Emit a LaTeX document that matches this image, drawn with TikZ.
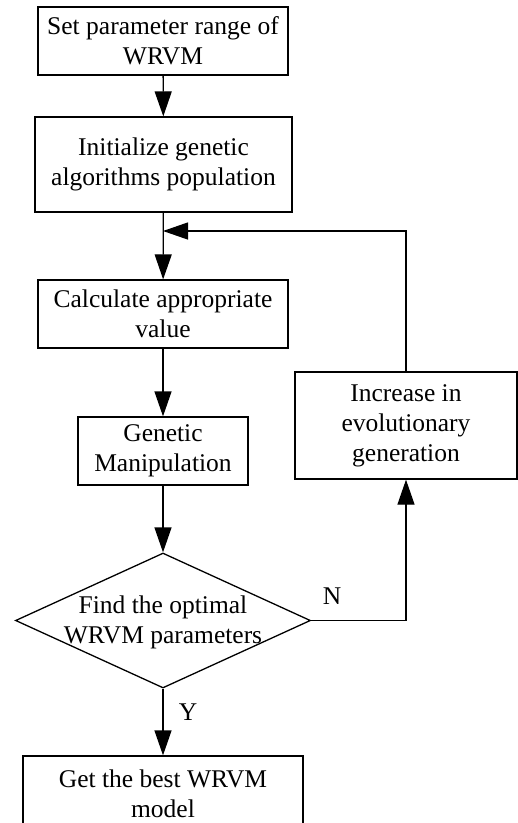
\documentclass[tikz,border=0pt]{standalone}
\usepackage{fontspec}
\setmainfont{Liberation Serif}
\usetikzlibrary{arrows.meta,shapes.geometric}

\tikzset{
  flowbox/.style={draw, line width=1.3pt, inner sep=0pt, align=center},
  decision/.style={draw, diamond, line width=1.3pt, inner sep=0pt},
  flowtext/.style={inner sep=0pt, align=center},
  flowarrow/.style={line width=1.3pt, -{Triangle[width=17pt,length=25pt]}}
}

\begin{document}
\begin{tikzpicture}[x=1pt, y=-1pt, font=\fontsize{25.5}{30}\selectfont]
\useasboundingbox (0,0) rectangle (518,823);
\clip (0,0) rectangle (518,823);
\node[flowbox, minimum width=250pt, minimum height=68pt] (range) at (163,41) {Set parameter range of\\WRVM};
\node[flowbox, minimum width=257pt, minimum height=95pt] (init) at (163.5,164.5) {Initialize genetic\\algorithms population};
\node[flowbox, minimum width=250pt, minimum height=68pt] (calc) at (163,314) {Calculate appropriate\\value};
\node[flowbox, minimum width=170pt, minimum height=68pt] (genetic) at (163,451) {Genetic\\Manipulation};
\node[decision, minimum width=295pt, minimum height=135pt] (find) at (163,620.5) {};
\node[flowtext] (findtxt) at (163,622) {Find the optimal\\WRVM parameters};
\node[flowbox, minimum width=222pt, minimum height=107pt] (incr) at (406,425.5) {Increase in\\evolutionary\\generation};
\node[flowbox, minimum width=280pt, minimum height=76pt] (best) at (163,794) {Get the best WRVM\\model};
\coordinate (merge) at (163,231);
% connectors
\draw[flowarrow] (range) -- (init);
\draw[flowarrow] (init) -- (calc);
\draw[flowarrow] (incr.north) |- (merge);
\draw[flowarrow] (calc) -- (genetic);
\draw[flowarrow] (genetic) -- (find.north);
\draw[flowarrow] (find.east) -| node[pos=0.11, above=12pt]{N} (incr.south);
\draw[flowarrow] (find.south) -- node[right=12pt, pos=0.35]{Y} (best);
\end{tikzpicture}
\end{document}
